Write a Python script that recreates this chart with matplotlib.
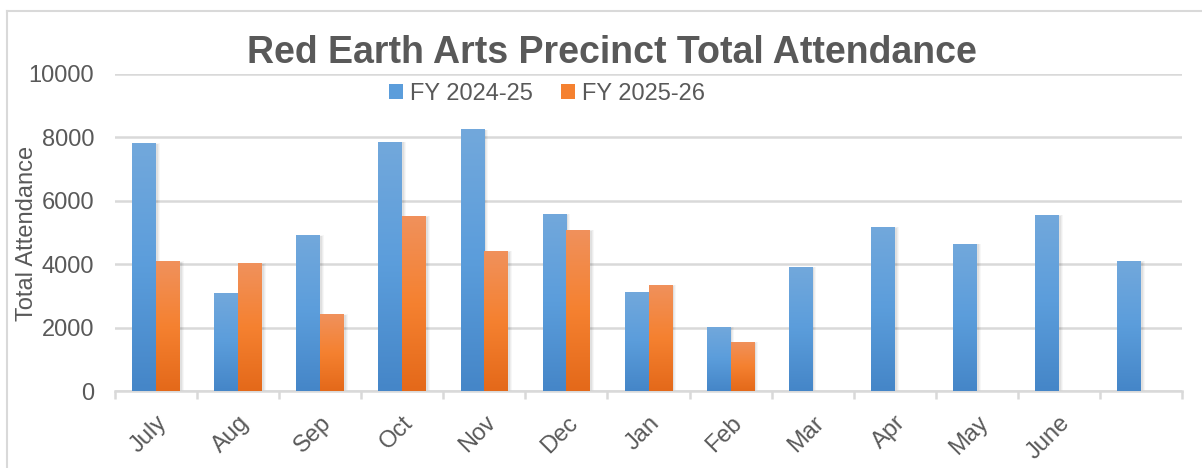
import numpy as np
import matplotlib.pyplot as plt
from matplotlib.patches import Rectangle, Patch
from matplotlib.lines import Line2D
from matplotlib.colors import LinearSegmentedColormap

plt.rcParams['font.family'] = ['Liberation Sans', 'DejaVu Sans']

# Данные
months = ['July', 'Aug', 'Sep', 'Oct', 'Nov', 'Dec', 'Jan', 'Feb', 'Mar', 'Apr', 'May', 'June', '']
fy_2425 = [7820, 3080, 4910, 7870, 8250, 5590, 3130, 2020, 3920, 5180, 4650, 5560, 4110]
fy_2526 = [4090, 4030, 2420, 5530, 4420, 5090, 3350, 1550, 0, 0, 0, 0, 0]
series_names = ['FY 2024-25', 'FY 2025-26']

grey = '#595959'
line_grey = '#d9d9d9'
blue_grad = ['#72a8dc', '#5b9ddb', '#4586c8']
orange_grad = ['#f0915c', '#f58130', '#e4691a']

fig = plt.figure(figsize=(12.02, 4.68), dpi=100)
ax = fig.add_axes([115 / 1202, 1 - 391 / 468, 1067 / 1202, 317 / 468])

# рамка диаграммы
fig.add_artist(Line2D([7 / 1202, 7 / 1202], [0, 1 - 11 / 468], color=line_grey, lw=1.5))
fig.add_artist(Line2D([7 / 1202, 1], [1 - 11 / 468, 1 - 11 / 468], color=line_grey, lw=1.5))

x = np.arange(len(months))
w = 0.29


def gradient_bars(xs, vals, colors):
    bars = ax.bar(xs, vals, width=w, color='none', zorder=3)
    grad = np.linspace(0, 1, 100)[:, None]
    cmap = LinearSegmentedColormap.from_list('g', colors)
    for b in bars:
        h = b.get_height()
        if h <= 0:
            continue
        x0 = b.get_x()
        # тень
        for k, a in enumerate([0.05, 0.04, 0.03]):
            d = 0.012 * (k + 1)
            ax.add_patch(Rectangle((x0 + 0.01, 0), w + d, h - 40 + d * 1000,
                                   facecolor='black', alpha=a, lw=0, zorder=2))
        im = ax.imshow(grad, cmap=cmap, aspect='auto', extent=(x0, x0 + w, 0, h),
                       origin='upper', zorder=3, interpolation='bilinear')
        im.set_clip_path(b)


gradient_bars(x - w / 2, fy_2425, blue_grad)
gradient_bars(x + w / 2, fy_2526, orange_grad)

ax.set_xlim(-0.5, len(months) - 0.5)
ax.set_ylim(0, 10000)
ax.set_yticks(np.arange(0, 10001, 2000))
ax.grid(axis='y', color=line_grey, lw=1.8, zorder=0)
ax.set_axisbelow(True)
for s in ['top', 'right', 'left']:
    ax.spines[s].set_visible(False)
ax.spines['bottom'].set_color(line_grey)
ax.spines['bottom'].set_linewidth(1.8)
ax.tick_params(axis='y', length=0, pad=15, labelsize=17, labelcolor=grey)

ax.set_xticks(x)
ax.set_xticklabels(months, rotation=45, ha='right', rotation_mode='anchor')
ax.tick_params(axis='x', which='major', length=0, pad=15, labelsize=17, labelcolor=grey)
ax.set_xticks(np.arange(-0.5, len(months)), minor=True)
ax.tick_params(axis='x', which='minor', length=6, width=1.8, color=line_grey)

fig.text(27 / 1202, 1 - 233 / 468, 'Total Attendance', rotation=90, ha='center', va='center',
         fontsize=17, color=grey)
fig.text(612 / 1202, 1 - 53 / 468, 'Red Earth Arts Precinct Total Attendance', ha='center', va='center',
         fontsize=27, fontweight='bold', color=grey)

handles = [Patch(facecolor=blue_grad[1]), Patch(facecolor=orange_grad[1])]
fig.legend(handles, series_names, loc='center', bbox_to_anchor=(0.455, 1 - 94 / 468), ncol=2,
           frameon=False, fontsize=17, labelcolor=grey, handlelength=0.6, handleheight=0.6,
           handletextpad=0.3, columnspacing=1.2)

plt.savefig('out.png', dpi=100)
